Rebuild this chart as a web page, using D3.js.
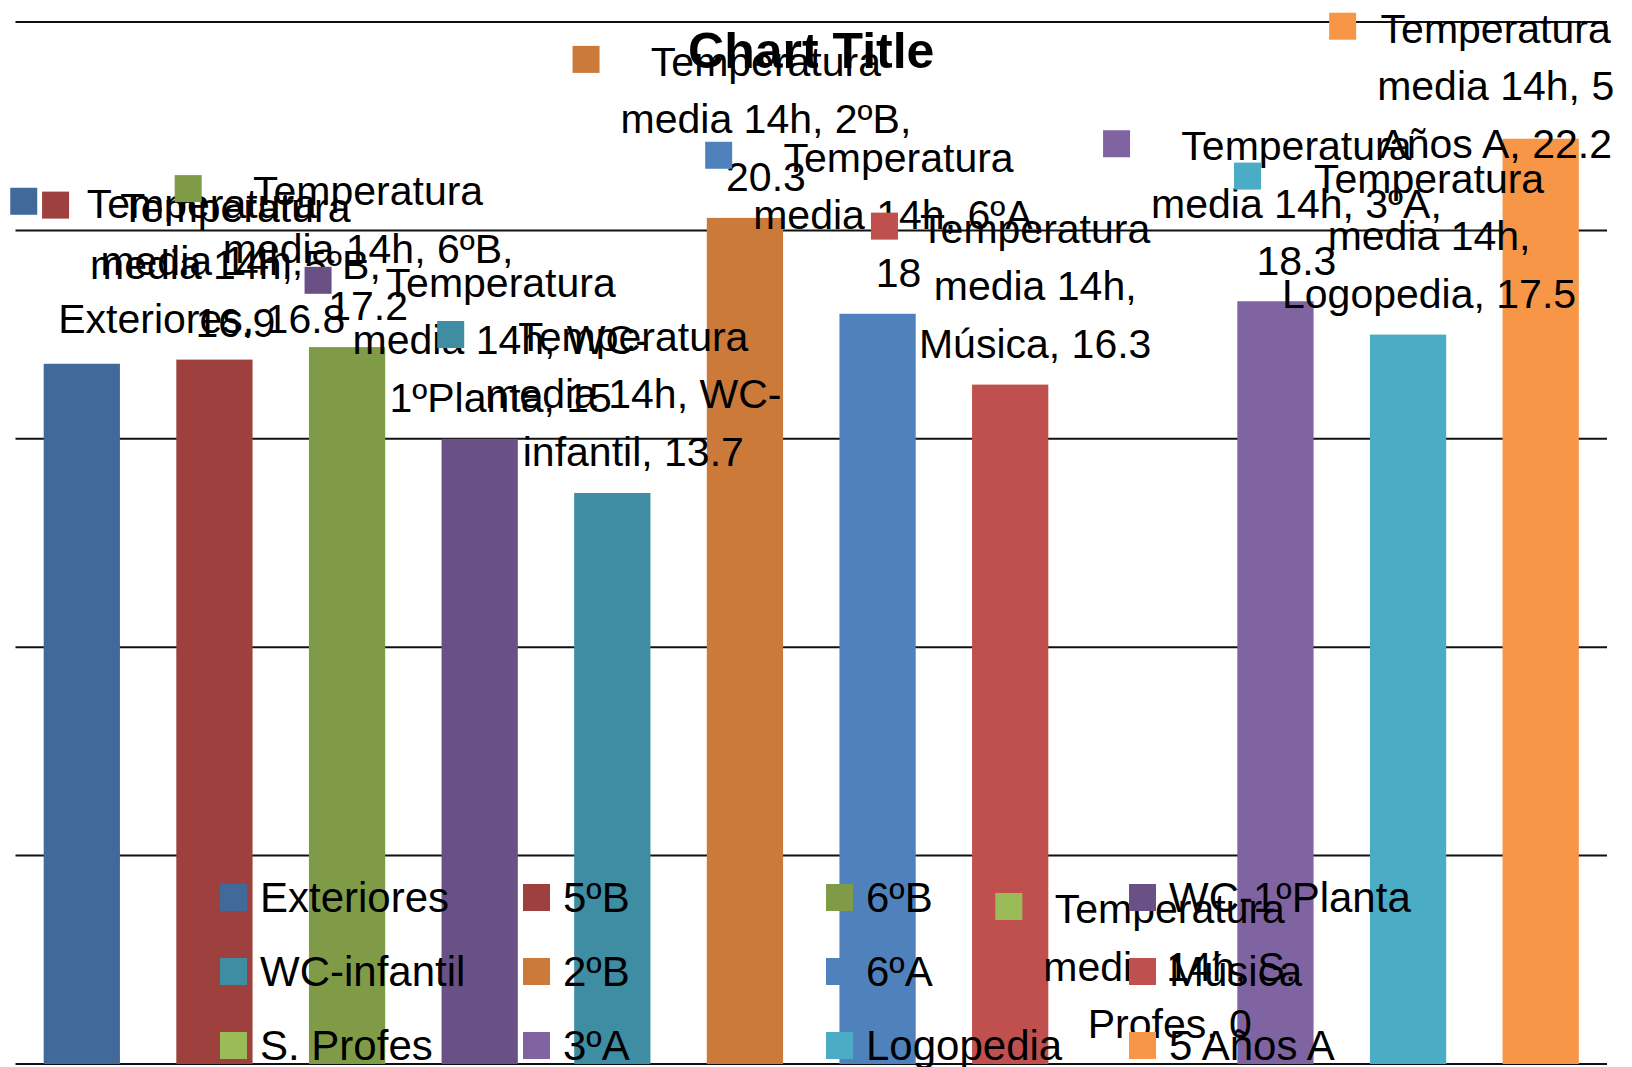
<!DOCTYPE html>
<html>
<head>
<meta charset="utf-8">
<script src="https://cdn.jsdelivr.net/npm/d3@7.9.0/dist/d3.min.js"></script>
<style>
  body { margin: 0; background: #fff; }
  svg { display: block; font-family: "Liberation Sans", Arial, sans-serif; }
</style>
</head>
<body>
<svg id="chart" width="1632" height="1067"></svg>
<script>
const seriesName = 'Temperatura media 14h';
const categories = ['Exteriores', '5ºB', '6ºB', 'WC-1ºPlanta', 'WC-infantil', '2ºB',
  '6ºA', 'Música', 'S. Profes', '3ºA', 'Logopedia', '5 Años A'];
const values = [16.8, 16.9, 17.2, 15, 13.7, 20.3, 18, 16.3, 0, 18.3, 17.5, 22.2];
const colors = ['#416a9b', '#9e413e', '#809b48', '#695185', '#3e8da3', '#cb7a39',
  '#4f81bd', '#c0504d', '#9bbb59', '#8064a2', '#4bacc6', '#f79646'];
const yTicks = [0, 5, 10, 15, 20, 25];

// labels Excel pushed away from their default place above the bar
const labelNudge = [[99, -4], [0, 4], [0, 0], [0, 0], [0, 0], [0, 0],
  [0, 0], [4, 0], [6, 1], [0, 1], [0, 0], [-66, 46]];

const plot = { left: 15.5, right: 1607, top: 22, bottom: 1064 };

const svg = d3.select('#chart');

const x = d3.scaleBand()
  .domain(categories)
  .range([plot.left, plot.right])
  .paddingInner(0.425)
  .paddingOuter(0.2125);

const y = d3.scaleLinear()
  .domain([0, 25])
  .range([plot.bottom, plot.top]);

// gridlines
svg.append('g')
  .selectAll('line')
  .data(yTicks)
  .enter()
  .append('line')
  .attr('x1', plot.left)
  .attr('x2', plot.right)
  .attr('y1', d => y(d))
  .attr('y2', d => y(d))
  .attr('stroke', '#111')
  .attr('stroke-width', 2);

// bars
svg.append('g')
  .selectAll('rect')
  .data(values)
  .enter()
  .append('rect')
  .attr('x', (_, i) => x(categories[i]))
  .attr('y', d => y(d))
  .attr('width', x.bandwidth())
  .attr('height', d => y(0) - y(d))
  .attr('fill', (_, i) => colors[i]);

// title
svg.append('text')
  .attr('x', (plot.left + plot.right) / 2)
  .attr('y', 68)
  .attr('text-anchor', 'middle')
  .attr('font-size', 50)
  .attr('font-weight', 'bold')
  .text('Chart Title');

// data labels: legend key + wrapped "series, category, value"
const labelFont = 41, lineGap = 57.5, maxWrap = 315, keySize = 27;
const measure = svg.append('text').attr('font-size', labelFont).attr('visibility', 'hidden');
const textWidth = s => { measure.text(s); return measure.node().getComputedTextLength(); };

function wrap(str) {
  const tokens = str.match(/[^\s-]+-?/g);
  const lines = [];
  let cur = '';
  tokens.forEach(t => {
    const joined = cur === '' ? t : (cur.endsWith('-') ? cur + t : cur + ' ' + t);
    if (cur !== '' && textWidth(joined) > maxWrap) {
      lines.push(cur);
      cur = t;
    } else {
      cur = joined;
    }
  });
  lines.push(cur);
  return lines;
}

const labels = svg.append('g');
values.forEach((v, i) => {
  const lines = wrap(`${seriesName}, ${categories[i]}, ${v}`);
  const maxW = d3.max(lines, textWidth);
  const cx = x(categories[i]) + x.bandwidth() / 2;
  const keyX = cx - (48 + maxW + 6) / 2 + labelNudge[i][0];
  const b1 = y(v) - 142 + labelNudge[i][1];
  const g = labels.append('g');
  g.append('rect')
    .attr('x', keyX)
    .attr('y', b1 - 30)
    .attr('width', keySize)
    .attr('height', keySize)
    .attr('fill', colors[i]);
  g.selectAll('text')
    .data(lines)
    .enter()
    .append('text')
    .attr('x', keyX + 48 + maxW / 2)
    .attr('y', (_, j) => b1 + j * lineGap)
    .attr('text-anchor', 'middle')
    .attr('font-size', labelFont)
    .text(d => d);
});
measure.remove();

// legend, 4 columns
const legend = svg.append('g')
  .selectAll('g')
  .data(categories)
  .enter()
  .append('g')
  .attr('transform', (_, i) => `translate(${220 + (i % 4) * 303},${884 + Math.floor(i / 4) * 74})`);

legend.append('rect')
  .attr('width', keySize)
  .attr('height', keySize)
  .attr('fill', (_, i) => colors[i]);

legend.append('text')
  .attr('x', 40)
  .attr('y', 28)
  .attr('font-size', 42)
  .text(d => d);
</script>
</body>
</html>
